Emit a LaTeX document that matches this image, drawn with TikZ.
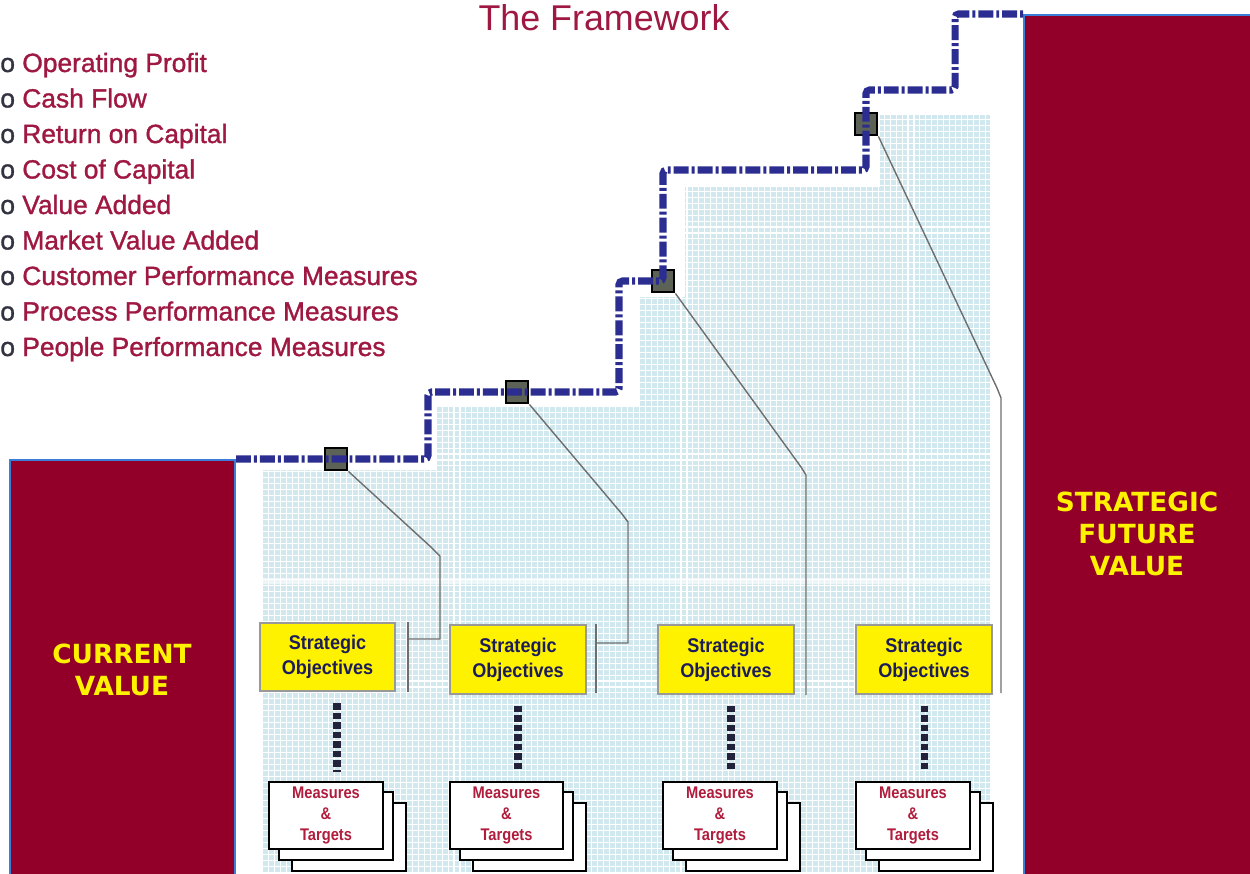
\documentclass[tikz,border=0pt]{standalone}
\usepackage{fontspec}
\setmainfont{Liberation Sans}
\newfontfamily\soface[FakeStretch=0.91]{Liberation Sans}
\newfontfamily\mtface[FakeStretch=0.87]{Liberation Sans}
\newfontfamily\listface[FakeBold=1.2]{Liberation Sans}
\newfontfamily\bigface{DejaVu Sans}
\definecolor{maroonbox}{RGB}{146,0,42}
\definecolor{edgeblue}{RGB}{60,125,215}
\definecolor{titlered}{RGB}{158,24,66}
\definecolor{bulletgray}{RGB}{50,50,64}
\definecolor{stairblue}{RGB}{43,45,145}
\definecolor{sqfill}{RGB}{92,99,86}
\definecolor{navytext}{RGB}{28,28,90}
\definecolor{cardred}{RGB}{176,28,60}
\definecolor{gridcell}{RGB}{208,232,238}
\definecolor{linegray}{RGB}{110,110,110}
\definecolor{dotnavy}{RGB}{34,34,58}
\begin{document}
\begin{tikzpicture}[x=0.02cm,y=-0.02cm,
  maroonrect/.style={draw=edgeblue, line width=1.1pt, fill=maroonbox, inner sep=0pt, anchor=north west},
  sobox/.style={draw=gray!80, line width=1.1pt, fill=yellow, minimum width=77.1pt, minimum height=39.1pt, inner sep=0pt, align=center, font=\soface\bfseries\fontsize{11.3}{14.2}\selectfont, text=navytext},
  card/.style={draw=black, line width=1.1pt, fill=white, minimum width=64.6pt, minimum height=38.5pt, inner sep=0pt, align=center, font=\mtface\bfseries\fontsize{9.6}{12.2}\selectfont, text=cardred},
  sqbox/.style={draw=black, line width=1.1pt, fill=sqfill, minimum size=13pt, inner sep=0pt},
  stair/.style={stairblue, line width=4pt, dash pattern=on 8.5pt off 1.7pt on 1.7pt off 1.7pt, rounded corners=2pt},
  leader/.style={linegray, line width=0.8pt},
  dotline/.style={dotnavy, line width=4pt, dash pattern=on 3.7pt off 1.7pt},
  bulletline/.style={anchor=base west, inner sep=0pt, font=\listface\fontsize{15}{18}\selectfont},
  bigtext/.style={text=yellow, align=center, font=\bigface\bfseries\fontsize{15}{18}\selectfont}]
\useasboundingbox (0,0) rectangle (1250,873);
% grid background
\begin{scope}
\clip (262,873) -- (262,470) -- (437,470) -- (437,407) -- (640,407) -- (640,297) -- (685,297) -- (685,187) -- (880,187) -- (880,115) -- (990,115) -- (990,873) -- cycle;
\fill[gridcell] (262,100) rectangle (990,873);
\draw[white, line width=0.6pt, step=3.4pt] (262,873) grid (990,100);
\fill[white, opacity=0.6] (262,578) rectangle (990,584);
\end{scope}
% value blocks
\node[maroonrect, minimum width=128.1pt, minimum height=238.7pt] (cv) at (9,459) {};
\node[maroonrect, minimum width=130.4pt, minimum height=493.2pt] (fv) at (1023,14) {};
\node[bigtext] (cvt) at (122,670) {CURRENT\\VALUE};
\node[bigtext] (fvt) at (1137,534) {STRATEGIC\\FUTURE\\VALUE};
% title and list
\node[anchor=base, inner sep=0pt, text=titlered, font=\fontsize{20.4}{24}\selectfont] (title) at (604,30) {The Framework};
\foreach \t [count=\i] in {Operating Profit, Cash Flow, Return on Capital, Cost of Capital, Value Added, Market Value Added, Customer Performance Measures, Process Performance Measures, People Performance Measures}
  \node[bulletline] (b\i) at (0,{72+35.5*(\i-1)}) {\textcolor{bulletgray}{o} \textcolor{titlered}{\t}};
% strategic objectives
\node[sobox] (so1) at (327.5,657) {Strategic\\Objectives};
\node[sobox] (so2) at (518,659.5) {Strategic\\Objectives};
\node[sobox] (so3) at (726,659.5) {Strategic\\Objectives};
\node[sobox] (so4) at (924,659.5) {Strategic\\Objectives};
% measures cards
\foreach \n/\cx in {1/326, 2/506.5, 3/720, 4/913} {
  \node[card] (mt\n c) at (\cx+23,837) {};
  \node[card] (mt\n b) at (\cx+10,826) {};
  \node[card] (mt\n) at (\cx,815.5) {Measures\\\&\\Targets};
}
% dotted links
\foreach \n/\dx in {1/337, 2/518, 3/731, 4/924} {
  \coordinate (d\n) at (\dx,0);
  \draw[dotline, shorten <=6.2pt, shorten >=5.1pt] (so\n.south -| d\n) -- (mt\n.north -| d\n);
}
% squares
\node[sqbox] (sq1) at (336,459) {};
\node[sqbox] (sq2) at (517,392) {};
\node[sqbox] (sq3) at (663,281) {};
\node[sqbox] (sq4) at (866,124) {};
% leaders
\coordinate (t1) at (408,639);
\coordinate (t2) at (596,643);
\coordinate (t3) at (806,695);
\coordinate (t4) at (1001,693);
\draw[leader] (sq1.south east) -- (432,548) -- (440,556) -- (440,639) -- (t1);
\draw[leader] (408,622) -- (408,692);
\draw[leader] (sq2.south east) -- (622,514) -- (628,522) -- (628,643) -- (t2);
\draw[leader] (596,624) -- (596,693);
\draw[leader] (sq3.south east) -- (801,467) -- (806,475) -- (t3);
\draw[leader] (sq4.south east) -- (997,388) -- (1001,398) -- (t4);
% staircase path
\draw[stair] (cv.north east) -- (sq1.center) -- (428,459) -- (428,392) -- (sq2.center) -- (619,392) -- (619,281) -- (sq3.center) -- (663,170) -- (866,170) -- (sq4.center) -- (866,90) -- (955,90) -- (955,14) -- (fv.north west);
\end{tikzpicture}
\end{document}
